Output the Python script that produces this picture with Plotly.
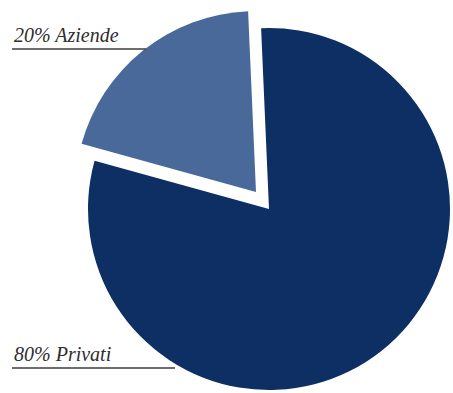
import plotly.graph_objects as go

# Customer split
labels = ["Privati", "Aziende"]
values = [80, 20]
colors = ["#0d2f64", "#48699a"]

W, H = 453, 393
R = 181            # pie radius, px
CX, CY = 269, 209  # pie centre, px from top-left
PULL = (-13, -17)  # offset of the detached "Aziende" wedge, px
ROT = -2.5         # start angle tweak, degrees


def domain(cx, cy, r):
    return dict(
        x=[(cx - r) / W, (cx + r) / W],
        y=[(H - cy - r) / H, (H - cy + r) / H],
    )


fig = go.Figure()

# main body: "Privati" wedge (the "Aziende" part left blank)
fig.add_trace(go.Pie(
    labels=labels, values=values, sort=False, direction="clockwise",
    rotation=ROT, textinfo="none", hoverinfo="label+percent",
    marker=dict(colors=[colors[0], "rgba(0,0,0,0)"], line=dict(width=0)),
    domain=domain(CX, CY, R), showlegend=False,
))

# detached "Aziende" wedge
fig.add_trace(go.Pie(
    labels=labels, values=values, sort=False, direction="clockwise",
    rotation=ROT, textinfo="none", hoverinfo="label+percent",
    marker=dict(colors=["rgba(0,0,0,0)", colors[1]], line=dict(width=0)),
    domain=domain(CX + PULL[0], CY + PULL[1], R), showlegend=False,
))

total = sum(values)
label_rows = {"Aziende": (49, 146), "Privati": (368, 175)}  # (underline y, underline end x)

annotations, shapes = [], []
for lab, val in zip(labels, values):
    ly, lx_end = label_rows[lab]
    annotations.append(dict(
        text=f"{round(val / total * 100)}% {lab}",
        xref="paper", yref="paper", x=12 / W, y=(H - ly + 1) / H,
        xanchor="left", yanchor="bottom", showarrow=False,
        font=dict(family="Liberation Serif", size=20, color="#2e2e2e", style="italic"),
    ))
    shapes.append(dict(
        type="line", xref="paper", yref="paper",
        x0=12 / W, x1=lx_end / W, y0=(H - ly) / H, y1=(H - ly) / H,
        line=dict(color="#3c3c3c", width=1.5),
    ))

fig.update_layout(
    width=W, height=H, margin=dict(l=0, r=0, t=0, b=0),
    paper_bgcolor="white", plot_bgcolor="white",
    annotations=annotations, shapes=shapes,
)

fig.write_html("out.html")
